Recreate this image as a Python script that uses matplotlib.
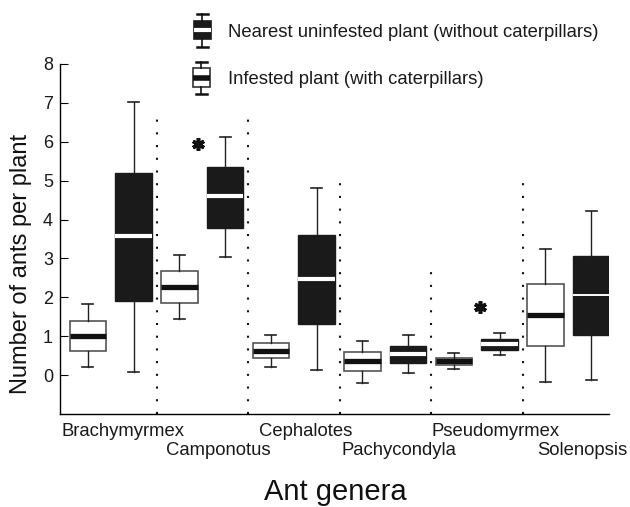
import matplotlib
matplotlib.use("Agg")
import matplotlib.pyplot as plt
from matplotlib.patches import Rectangle
from matplotlib.lines import Line2D
from matplotlib.transforms import blended_transform_factory

plt.rcParams['font.family'] = ['Liberation Sans', 'DejaVu Sans']

genera = ['Brachymyrmex', 'Camponotus', 'Cephalotes', 'Pachycondyla',
          'Pseudomyrmex', 'Solenopsis']

# Infested plant (with caterpillars) - white boxes
inf_low = [0.20, 1.44, 0.21, -0.20, 0.15, -0.17]
inf_q1 = [0.62, 1.86, 0.43, 0.11, 0.25, 0.76]
inf_med = [1.00, 2.26, 0.62, 0.37, 0.36, 1.54]
inf_q3 = [1.39, 2.67, 0.82, 0.59, 0.45, 2.34]
inf_high = [1.82, 3.10, 1.03, 0.88, 0.56, 3.25]

# Nearest uninfested plant (without caterpillars) - black boxes
un_low = [0.08, 3.04, 0.13, 0.05, 0.51, -0.12]
un_q1 = [1.90, 3.79, 1.32, 0.30, 0.64, 1.04]
un_med = [3.58, 4.60, 2.46, 0.54, 0.79, 2.07]
un_q3 = [5.19, 5.34, 3.61, 0.75, 0.94, 3.06]
un_high = [7.02, 6.11, 4.80, 1.02, 1.08, 4.23]

sep_x = [2.5, 4.5, 6.5, 8.5, 10.5]
sep_top = [6.6, 6.6, 4.95, 2.7, 4.95]

star_x = [3.41, 9.56]
star_y = [5.95, 1.75]

label_x = [1.77, 3.85, 5.75, 7.8, 9.9, 11.8]

fig = plt.figure(figsize=(6.3, 5.07), dpi=100)
ax = fig.add_axes([60/630, 1-414/507, 549/630, 350/507])

def stats(lo, q1, med, q3, hi):
    return [dict(whislo=a, q1=b, med=c, q3=d, whishi=e, fliers=[])
            for a, b, c, d, e in zip(lo, q1, med, q3, hi)]

n = len(genera)
pos_inf = [2*i + 1 for i in range(n)]
pos_un = [2*i + 2 for i in range(n)]

ax.bxp(stats(inf_low, inf_q1, inf_med, inf_q3, inf_high), positions=pos_inf,
       widths=0.8, patch_artist=True, showfliers=False,
       boxprops=dict(facecolor='white', edgecolor='#555555', linewidth=1.2),
       medianprops=dict(color='#111111', linewidth=3.8, solid_capstyle='butt'),
       whiskerprops=dict(color='#222222', linewidth=1.0),
       capprops=dict(color='#222222', linewidth=1.2), capwidths=0.24)

med_w = [3.0, 3.0, 3.0, 3.0, 3.0, 1.4]
res = ax.bxp(stats(un_low, un_q1, un_med, un_q3, un_high), positions=pos_un,
             widths=0.8, patch_artist=True, showfliers=False,
             boxprops=dict(facecolor='#1a1a1a', edgecolor='#1a1a1a', linewidth=1.0),
             medianprops=dict(color='white', linewidth=3.0, solid_capstyle='butt'),
             whiskerprops=dict(color='#222222', linewidth=1.0),
             capprops=dict(color='#222222', linewidth=1.2), capwidths=0.24)
for ln, w in zip(res['medians'], med_w):
    ln.set_linewidth(w)

for x, t in zip(sep_x, sep_top):
    ax.plot([x, x], [-1, t], color='#111111', linewidth=1.5,
            linestyle=(0, (1, 5.1)))

ax.plot(star_x, star_y, linestyle='none', marker=(6, 2, 0), markersize=9,
        markeredgewidth=2.6, color='#111111')

ax.set_xlim(0.39, 12.39)
ax.set_ylim(-1, 8)
ax.set_yticks(range(0, 9))
ax.set_xticks([])
ax.tick_params(axis='y', direction='in', length=6, labelsize=13, pad=5,
               width=0.8, labelcolor='#1a1a1a')
ax.spines['top'].set_visible(False)
ax.spines['right'].set_visible(False)
ax.spines['left'].set_linewidth(1.0)
ax.spines['bottom'].set_linewidth(1.0)

tr = blended_transform_factory(ax.transData, ax.transAxes)
for i, (x, name) in enumerate(zip(label_x, genera)):
    y = -22/350 if i % 2 == 0 else -41/350
    ax.text(x, y, name, transform=tr, ha='center', va='baseline',
            fontsize=13.3, color='#1a1a1a')

fig.text(21/630, 1-264/507, 'Number of ants per plant', rotation=90,
         ha='center', va='center', fontsize=17, color='#111111')
fig.text(335/630, 1-500/507, 'Ant genera', ha='center', va='baseline',
         fontsize=21, color='#111111')

# legend drawn in figure pixel coordinates
def px(x, y):
    return (x/630, 1-y/507)

def legend_icon(cx, top, btop, bbot, bot, med, face, medc, edge, mlw):
    w = 17
    x0, y0 = px(cx - w/2, bbot)
    fig.add_artist(Rectangle((x0, y0), w/630, (bbot-btop)/507,
                             transform=fig.transFigure, facecolor=face,
                             edgecolor=edge, linewidth=1.2))
    for a, b in [(top, btop), (bbot, bot)]:
        fig.add_artist(Line2D([cx/630, cx/630], [1-a/507, 1-b/507],
                              transform=fig.transFigure, color='#111111', lw=1.2))
    for c in (top, bot):
        fig.add_artist(Line2D([(cx-5.5)/630, (cx+5.5)/630], [1-c/507, 1-c/507],
                              transform=fig.transFigure, color='#111111', lw=1.8))
    fig.add_artist(Line2D([(cx-w/2)/630, (cx+w/2)/630], [1-med/507, 1-med/507],
                          transform=fig.transFigure, color=medc, lw=mlw,
                          solid_capstyle='butt'))

legend_icon(202, 14, 21, 39, 47, 30, '#1a1a1a', 'white', '#1a1a1a', 3.0)
legend_icon(201, 62, 68, 87, 94, 78, 'white', '#111111', '#333333', 4.0)
fig.text(228/630, 1-37/507, 'Nearest uninfested plant (without caterpillars)',
         ha='left', va='baseline', fontsize=13.3, color='#1a1a1a')
fig.text(228/630, 1-83.5/507, 'Infested plant (with caterpillars)',
         ha='left', va='baseline', fontsize=13.3, color='#1a1a1a')

fig.savefig('out.png', dpi=100)
